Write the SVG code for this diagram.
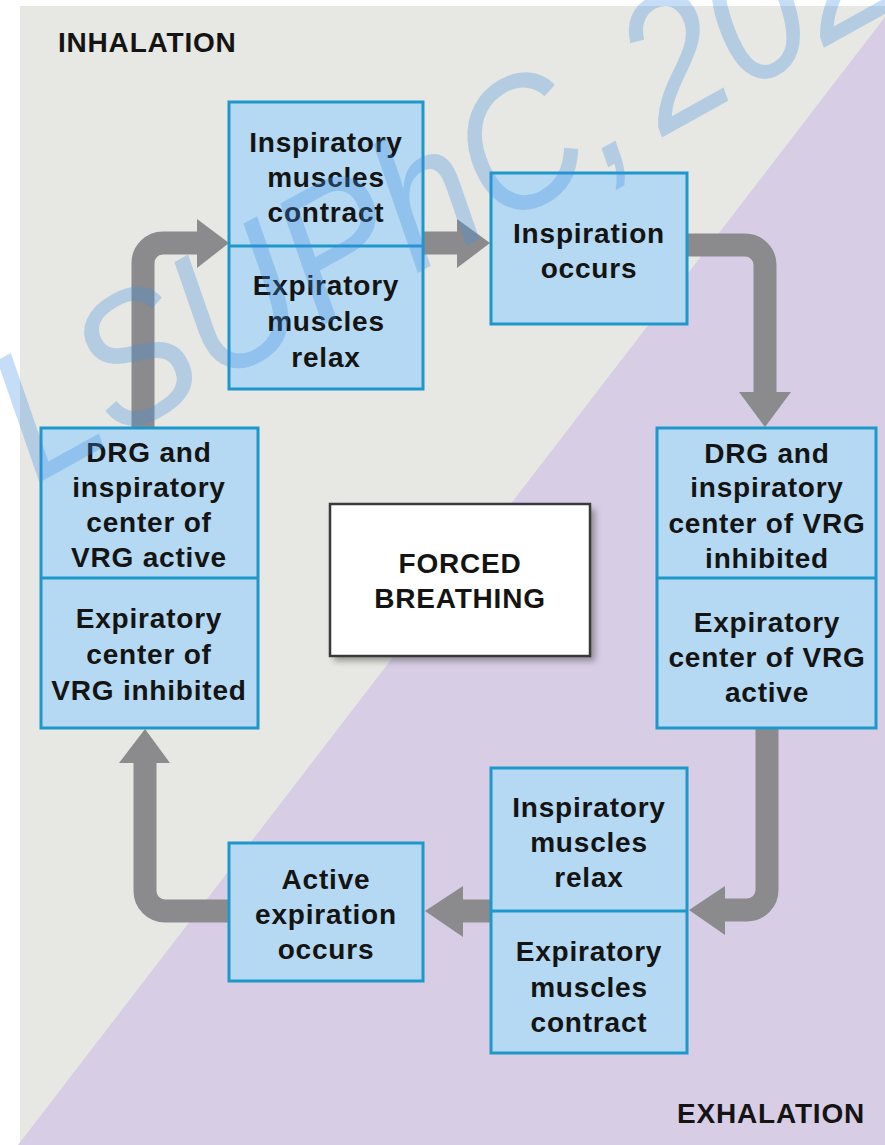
<svg xmlns="http://www.w3.org/2000/svg" width="885" height="1145" viewBox="0 0 885 1145">
<style>
.box{fill:#b5d9f2;stroke:#1e97cb;stroke-width:3}
.div{stroke:#1e97cb;stroke-width:3}
.t{font-family:"Liberation Sans",Arial,Helvetica,sans-serif;font-weight:bold;font-size:28px;letter-spacing:0.8px;fill:#141414;text-anchor:middle}
.lbl{font-family:"Liberation Sans",Arial,Helvetica,sans-serif;font-weight:bold;font-size:28px;letter-spacing:0.8px;fill:#141414}
.shaft{fill:none;stroke:#8b8b8d;stroke-width:23}
.head{fill:#8b8b8d}
.wm{font-family:"Liberation Sans",Arial,sans-serif;font-style:italic;font-size:185px;fill:#3f8fe2;fill-opacity:0.3}
</style>
<defs>
<filter id="sh" x="-10%" y="-10%" width="130%" height="130%">
<feGaussianBlur stdDeviation="3"/>
</filter>
</defs>
<rect x="0" y="0" width="885" height="1145" fill="#ffffff"/>
<rect x="20" y="6" width="865" height="1139" fill="#e7e7e3"/>
<polygon points="885,17 885,1145 18,1145" fill="#d7cde5"/>
<text class="lbl" x="58" y="52">INHALATION</text>
<text class="lbl" x="865" y="1123" text-anchor="end">EXHALATION</text>

<g id="connectors">
<path class="shaft" d="M143 428 V263 A20 20 0 0 1 163 243 H200"/>
<polygon class="head" points="197,219 229,243 197,268"/>
<path class="shaft" d="M423 243 H459"/>
<polygon class="head" points="457,219 490,243 457,268"/>
<path class="shaft" d="M687 245 H745 A20 20 0 0 1 765 265 V394"/>
<polygon class="head" points="739,392 765,427 791,392"/>
<path class="shaft" d="M767 728 V890 A20 20 0 0 1 747 910 H722"/>
<polygon class="head" points="725,886 689,910 725,935"/>
<path class="shaft" d="M491 911 H461"/>
<polygon class="head" points="463,886 425,911 463,937"/>
<path class="shaft" d="M229 911 H165 A20 20 0 0 1 145 891 V762"/>
<polygon class="head" points="119,763 145,729 170,763"/>
</g>

<g id="muscles-inhale">
<rect class="box" x="229" y="102" width="194" height="287"/>
<line class="div" x1="229" y1="246" x2="423" y2="246"/>
<text class="t" x="326" y="152">Inspiratory</text>
<text class="t" x="326" y="187">muscles</text>
<text class="t" x="326" y="222">contract</text>
<text class="t" x="326" y="295">Expiratory</text>
<text class="t" x="326" y="331">muscles</text>
<text class="t" x="326" y="367">relax</text>
</g>

<g id="inspiration">
<rect class="box" x="491" y="173" width="196" height="151"/>
<text class="t" x="589" y="243">Inspiration</text>
<text class="t" x="589" y="278">occurs</text>
</g>

<g id="centers-exhale">
<rect class="box" x="657" y="428" width="219" height="300"/>
<line class="div" x1="657" y1="578" x2="876" y2="578"/>
<text class="t" x="767" y="463">DRG and</text>
<text class="t" x="767" y="497">inspiratory</text>
<text class="t" x="767" y="533">center of VRG</text>
<text class="t" x="767" y="568">inhibited</text>
<text class="t" x="767" y="632">Expiratory</text>
<text class="t" x="767" y="667">center of VRG</text>
<text class="t" x="767" y="702">active</text>
</g>

<g id="muscles-exhale">
<rect class="box" x="491" y="768" width="196" height="285"/>
<line class="div" x1="491" y1="911" x2="687" y2="911"/>
<text class="t" x="589" y="817">Inspiratory</text>
<text class="t" x="589" y="852">muscles</text>
<text class="t" x="589" y="887">relax</text>
<text class="t" x="589" y="961">Expiratory</text>
<text class="t" x="589" y="997">muscles</text>
<text class="t" x="589" y="1032">contract</text>
</g>

<g id="active-expiration">
<rect class="box" x="229" y="843" width="194" height="138"/>
<text class="t" x="326" y="889">Active</text>
<text class="t" x="326" y="924">expiration</text>
<text class="t" x="326" y="959">occurs</text>
</g>

<g id="centers-inhale">
<rect class="box" x="41" y="428" width="217" height="300"/>
<line class="div" x1="41" y1="578" x2="258" y2="578"/>
<text class="t" x="149" y="462">DRG and</text>
<text class="t" x="149" y="497">inspiratory</text>
<text class="t" x="149" y="532">center of</text>
<text class="t" x="149" y="567">VRG active</text>
<text class="t" x="149" y="628">Expiratory</text>
<text class="t" x="149" y="664">center of</text>
<text class="t" x="149" y="700">VRG inhibited</text>
</g>

<g id="forced-breathing">
<rect x="334" y="509" width="261" height="152" fill="#555" opacity="0.55" filter="url(#sh)"/>
<rect x="330" y="504" width="260" height="152" fill="#ffffff" stroke="#3a3a3a" stroke-width="2.5"/>
<text class="t" x="460" y="573">FORCED</text>
<text class="t" x="460" y="608">BREATHING</text>
</g>

<text class="wm" transform="translate(35 485) rotate(-29) scale(0.9 1)" x="0" y="0">LSUPhC,<tspan dx="-25"> 2020</tspan></text>
</svg>
